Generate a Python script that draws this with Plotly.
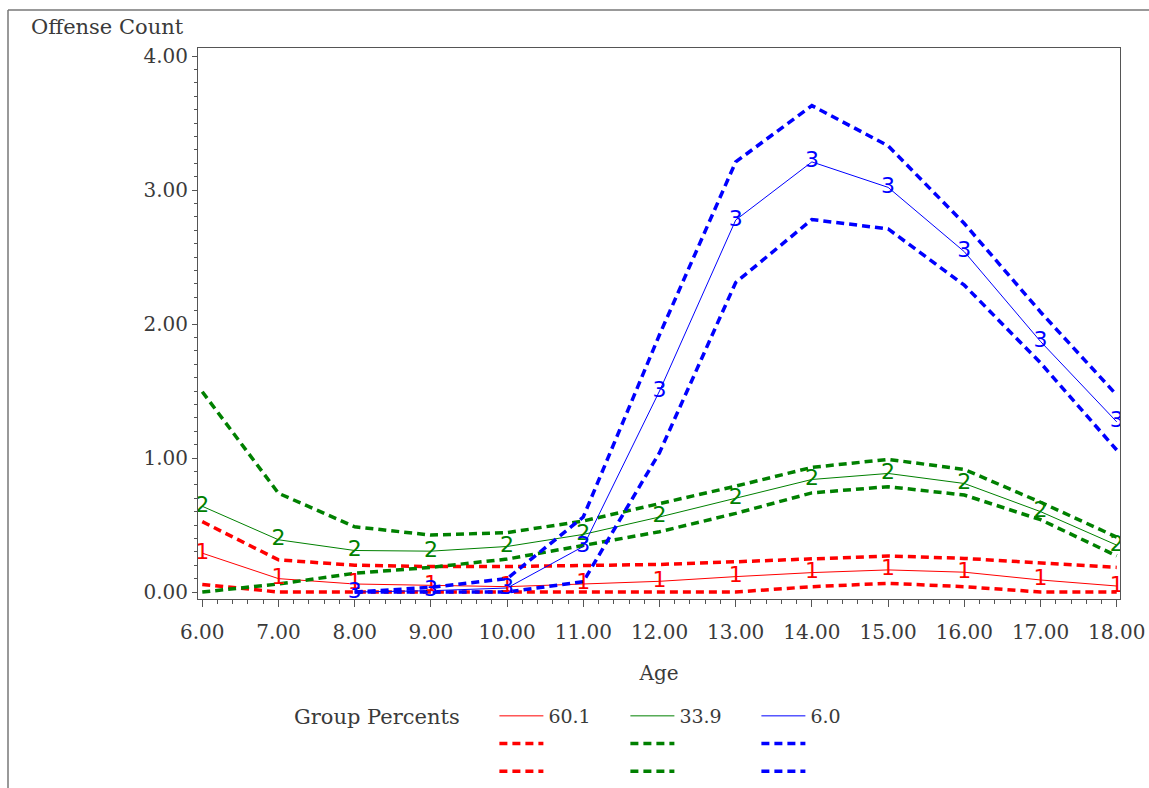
import plotly.graph_objects as go

ages = [6, 7, 8, 9, 10, 11, 12, 13, 14, 15, 16, 17, 18]

group_names = ["60.1", "33.9", "6.0"]
group_marks = ["1", "2", "3"]
group_colors = ["#FF0000", "#008000", "#0000FF"]

red_est = [0.29, 0.10, 0.06, 0.05, 0.04, 0.06, 0.08, 0.115, 0.145, 0.165, 0.148, 0.09, 0.045]
red_upper = [0.525, 0.24, 0.20, 0.19, 0.19, 0.196, 0.206, 0.226, 0.246, 0.269, 0.251, 0.216, 0.184]
red_lower = [0.057, 0.0, 0.0, 0.0, 0.0, 0.0, 0.0, 0.0, 0.04, 0.065, 0.04, 0.0, 0.0]

green_est = [0.64, 0.39, 0.31, 0.305, 0.34, 0.43, 0.56, 0.70, 0.84, 0.885, 0.81, 0.60, 0.35]
green_upper = [1.495, 0.737, 0.487, 0.425, 0.443, 0.53, 0.66, 0.79, 0.93, 0.99, 0.915, 0.67, 0.41]
green_lower = [0.0, 0.06, 0.14, 0.184, 0.246, 0.345, 0.45, 0.587, 0.74, 0.786, 0.724, 0.54, 0.27]

blue_est = [None, None, 0.0, 0.01, 0.03, 0.34, 1.50, 2.776, 3.21, 3.02, 2.54, 1.87, 1.27]
blue_upper = [None, None, 0.0, 0.035, 0.10, 0.56, 1.92, 3.21, 3.63, 3.33, 2.75, 2.09, 1.47]
blue_lower = [None, None, 0.0, 0.0, 0.0, 0.077, 1.04, 2.31, 2.78, 2.71, 2.29, 1.71, 1.06]

estimates = [red_est, green_est, blue_est]
uppers = [red_upper, green_upper, blue_upper]
lowers = [red_lower, green_lower, blue_lower]

x_ticks = [6, 7, 8, 9, 10, 11, 12, 13, 14, 15, 16, 17, 18]
y_ticks = [0, 1, 2, 3, 4]

SERIF = "DejaVu Serif"
TXT = "#3a3a3a"

fig = go.Figure()

for g in range(3):
    col = group_colors[g]
    grp = "g%d" % g
    fig.add_trace(go.Scatter(
        x=ages, y=estimates[g], mode="lines", name=group_names[g],
        legendgroup=grp, line=dict(color=col, width=1), connectgaps=False))
    fig.add_trace(go.Scatter(
        x=ages, y=uppers[g], mode="lines", name="",
        legendgroup=grp, line=dict(color=col, width=3.5, dash="8px,5px")))
    fig.add_trace(go.Scatter(
        x=ages, y=lowers[g], mode="lines", name="",
        legendgroup=grp, line=dict(color=col, width=3.5, dash="8px,5px")))

# symbol digits on the estimate lines
for g in range(3):
    xs = [a for a, v in zip(ages, estimates[g]) if v is not None]
    ys = [v for v in estimates[g] if v is not None]
    fig.add_trace(go.Scatter(
        x=xs, y=ys, mode="text", text=[group_marks[g]] * len(xs),
        textposition="middle center", showlegend=False,
        textfont=dict(family="Liberation Sans Narrow, DejaVu Sans", size=22,
                      color=group_colors[g]),
        hoverinfo="skip"))

W, H = 1149, 788
L, R, T, B = 198, 29, 48, 189
pw, ph = W - L - R, H - T - B

def px_x(p):
    return (p - L) / pw

def px_y(p):
    return (H - B - p) / ph

fig.update_layout(
    width=W, height=H,
    margin=dict(l=L, r=R, t=T, b=B, pad=0, autoexpand=False),
    paper_bgcolor="white", plot_bgcolor="white",
    font=dict(family=SERIF, size=20, color=TXT),
    showlegend=True,
    legend=dict(
        orientation="h", traceorder="grouped",
        x=px_x(292), xanchor="left", y=px_y(697), yanchor="top",
        font=dict(family=SERIF, size=19, color=TXT),
        title=dict(text="Group Percents\u00a0\u00a0\u00a0\u00a0", side="left",
                   font=dict(family=SERIF, size=21, color=TXT)),
        tracegroupgap=0, bgcolor="rgba(0,0,0,0)",
        itemwidth=44, entrywidth=72,
    ),
    xaxis=dict(
        range=[5.944, 18.043], tickmode="array", tickvals=x_ticks,
        tickformat=".2f", ticks="outside", ticklen=7, tickwidth=1,
        tickcolor="#555", showline=True, linecolor="#555", linewidth=1,
        mirror=True, showgrid=False, zeroline=False, automargin=False,
        tickfont=dict(family=SERIF, size=20, color=TXT),
        ticklabelstandoff=8,
        minor=dict(dtick=0.2, ticks="outside", ticklen=4, tickcolor="#555",
                   showgrid=False),
        title=dict(text="Age", standoff=22,
                   font=dict(family=SERIF, size=20, color=TXT)),
    ),
    yaxis=dict(
        range=[-0.052, 4.06], tickmode="array", tickvals=y_ticks,
        tickformat=".2f", ticks="outside", ticklen=5, tickwidth=1,
        tickcolor="#555", showline=True, linecolor="#555", linewidth=1,
        mirror=True, showgrid=False, zeroline=False, automargin=False,
        tickfont=dict(family=SERIF, size=20, color=TXT),
        minor=dict(dtick=0.1, ticks="outside", ticklen=3, tickcolor="#555",
                   showgrid=False),
    ),
    annotations=[
        dict(text="Offense Count", xref="paper", yref="paper",
             x=px_x(29), xanchor="left", y=px_y(27), yanchor="middle",
             showarrow=False, font=dict(family=SERIF, size=21, color=TXT)),
    ],
    shapes=[
        dict(type="line", xref="paper", yref="paper",
             x0=px_x(8), x1=px_x(W), y0=px_y(10), y1=px_y(10),
             line=dict(color="#777", width=1.5)),
        dict(type="line", xref="paper", yref="paper",
             x0=px_x(8), x1=px_x(8), y0=px_y(10), y1=px_y(H),
             line=dict(color="#777", width=1.5)),
    ],
)

fig.write_html("out.html")
